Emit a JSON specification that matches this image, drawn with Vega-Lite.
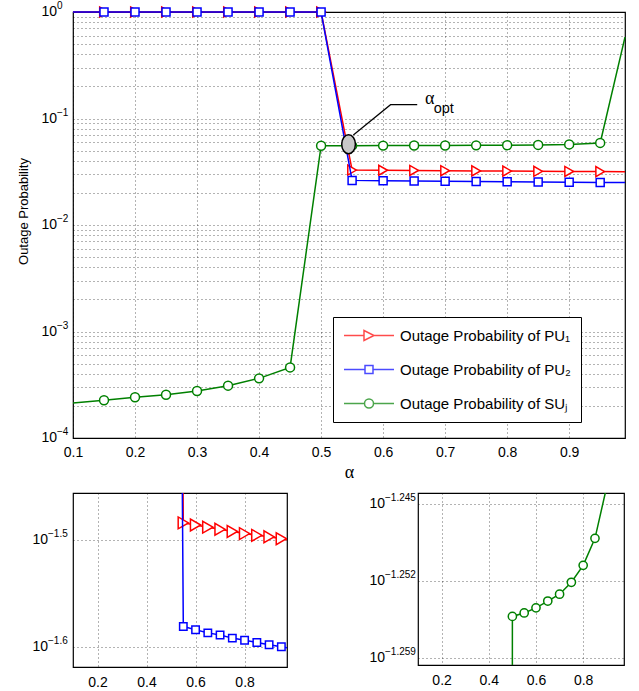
{
  "$schema": "https://vega.github.io/schema/vega-lite/v6.json",
  "padding": {"left": 16, "top": 0, "right": 0, "bottom": 0},
  "bounds": "flush",
  "spacing": 55,
  "datasets": {
    "series": [
      {"a": 0.1, "s": "PU1", "p": 1, "m": false},
      {"a": 0.15, "s": "PU1", "p": 1, "m": true},
      {"a": 0.2, "s": "PU1", "p": 1, "m": true},
      {"a": 0.25, "s": "PU1", "p": 1, "m": true},
      {"a": 0.3, "s": "PU1", "p": 1, "m": true},
      {"a": 0.35, "s": "PU1", "p": 1, "m": true},
      {"a": 0.4, "s": "PU1", "p": 1, "m": true},
      {"a": 0.45, "s": "PU1", "p": 1, "m": true},
      {"a": 0.5, "s": "PU1", "p": 1, "m": true},
      {"a": 0.55, "s": "PU1", "p": 0.03281, "m": true},
      {"a": 0.6, "s": "PU1", "p": 0.03266, "m": true},
      {"a": 0.65, "s": "PU1", "p": 0.03251, "m": true},
      {"a": 0.7, "s": "PU1", "p": 0.03236, "m": true},
      {"a": 0.75, "s": "PU1", "p": 0.03221, "m": true},
      {"a": 0.8, "s": "PU1", "p": 0.03206, "m": true},
      {"a": 0.85, "s": "PU1", "p": 0.03194, "m": true},
      {"a": 0.9, "s": "PU1", "p": 0.03184, "m": true},
      {"a": 0.95, "s": "PU1", "p": 0.03171, "m": true},
      {"a": 0.99, "s": "PU1", "p": 0.0316, "m": false},
      {"a": 0.1, "s": "PU2", "p": 1, "m": false},
      {"a": 0.15, "s": "PU2", "p": 1, "m": true},
      {"a": 0.2, "s": "PU2", "p": 1, "m": true},
      {"a": 0.25, "s": "PU2", "p": 1, "m": true},
      {"a": 0.3, "s": "PU2", "p": 1, "m": true},
      {"a": 0.35, "s": "PU2", "p": 1, "m": true},
      {"a": 0.4, "s": "PU2", "p": 1, "m": true},
      {"a": 0.45, "s": "PU2", "p": 1, "m": true},
      {"a": 0.5, "s": "PU2", "p": 1, "m": true},
      {"a": 0.55, "s": "PU2", "p": 0.02624, "m": true},
      {"a": 0.6, "s": "PU2", "p": 0.02606, "m": true},
      {"a": 0.65, "s": "PU2", "p": 0.02588, "m": true},
      {"a": 0.7, "s": "PU2", "p": 0.02576, "m": true},
      {"a": 0.75, "s": "PU2", "p": 0.02559, "m": true},
      {"a": 0.8, "s": "PU2", "p": 0.02547, "m": true},
      {"a": 0.85, "s": "PU2", "p": 0.02535, "m": true},
      {"a": 0.9, "s": "PU2", "p": 0.02523, "m": true},
      {"a": 0.95, "s": "PU2", "p": 0.02512, "m": true},
      {"a": 0.99, "s": "PU2", "p": 0.02503, "m": false},
      {"a": 0.1, "s": "SU", "p": 0.000213, "m": false},
      {"a": 0.15, "s": "SU", "p": 0.000226, "m": true},
      {"a": 0.2, "s": "SU", "p": 0.000241, "m": true},
      {"a": 0.25, "s": "SU", "p": 0.000255, "m": true},
      {"a": 0.3, "s": "SU", "p": 0.000276, "m": true},
      {"a": 0.35, "s": "SU", "p": 0.00031, "m": true},
      {"a": 0.4, "s": "SU", "p": 0.000363, "m": true},
      {"a": 0.45, "s": "SU", "p": 0.00046, "m": true},
      {"a": 0.5, "s": "SU", "p": 0.05556, "m": true},
      {"a": 0.55, "s": "SU", "p": 0.0556, "m": true},
      {"a": 0.6, "s": "SU", "p": 0.05566, "m": true},
      {"a": 0.65, "s": "SU", "p": 0.05574, "m": true},
      {"a": 0.7, "s": "SU", "p": 0.05582, "m": true},
      {"a": 0.75, "s": "SU", "p": 0.05596, "m": true},
      {"a": 0.8, "s": "SU", "p": 0.05616, "m": true},
      {"a": 0.85, "s": "SU", "p": 0.05648, "m": true},
      {"a": 0.9, "s": "SU", "p": 0.0571, "m": true},
      {"a": 0.95, "s": "SU", "p": 0.059, "m": true},
      {"a": 0.99, "s": "SU", "p": 0.58, "m": false}
    ],
    "mainLab": [
      {"a": 0.1, "p": 1, "e": "0"},
      {"a": 0.1, "p": 0.1, "e": "−1"},
      {"a": 0.1, "p": 0.01, "e": "−2"},
      {"a": 0.1, "p": 0.001, "e": "−3"},
      {"a": 0.1, "p": 0.0001, "e": "−4"}
    ],
    "in1Lab": [
      {"a": 0.1, "p": 0.0316228, "e": "−1.5"},
      {"a": 0.1, "p": 0.0251189, "e": "−1.6"}
    ],
    "in2Lab": [
      {"a": 0.1, "p": 0.056885, "e": "−1.245"},
      {"a": 0.1, "p": 0.055976, "e": "−1.252"},
      {"a": 0.1, "p": 0.055081, "e": "−1.259"}
    ],
    "annLine": [
      {"a": 0.552, "p": 0.07},
      {"a": 0.612, "p": 0.1348},
      {"a": 0.655, "p": 0.1348}
    ],
    "annPt": [{"a": 0.5443, "p": 0.0573}],
    "annA": [{"a": 0.675, "p": 0.152, "t": "α"}],
    "annOpt": [{"a": 0.6816, "p": 0.123, "t": "opt"}]
  },
  "vconcat": [
    {
      "width": 552,
      "height": 426,
      "encoding": {
        "x": {"field": "a", "type": "quantitative",
          "scale": {"domain": [0.1, 0.99], "nice": false, "zero": false},
          "axis": {"values": [0.1, 0.2, 0.3, 0.4, 0.5, 0.6, 0.7, 0.8, 0.9], "format": ".1f", "title": "α", "titleFont": "Liberation Serif", "titleFontSize": 18, "titlePadding": 4, "labelPadding": 7, "labelFlush": false, "grid": true}},
        "y": {"field": "p", "type": "quantitative",
          "scale": {"type": "log", "domain": [0.0001, 1], "nice": false},
          "axis": {"values": [0.0001, 0.0002, 0.0003, 0.0004, 0.0005, 0.0006, 0.0007, 0.0008, 0.0009, 0.001, 0.002, 0.003, 0.004, 0.005, 0.006, 0.007, 0.008, 0.009, 0.01, 0.02, 0.03, 0.04, 0.05, 0.06, 0.07, 0.08, 0.09, 0.1, 0.2, 0.3, 0.4, 0.5, 0.6, 0.7, 0.8, 0.9, 1], "labels": false, "grid": true, "title": "Outage Probability", "titleFontSize": 13, "titleX": -50, "titleY": 199, "titleAngle": -90, "titleBaseline": "middle", "titleAlign": "center"}}
      },
      "layer": [
        {"data": {"name": "series"}, "transform": [{"filter": "datum.s === 'PU1'"}],
          "mark": {"type": "line", "color": "#ff0000", "strokeWidth": 1.5}},
        {"data": {"name": "series"}, "transform": [{"filter": "datum.s === 'PU1' && datum.m"}],
          "mark": {"type": "point", "shape": "triangle-right", "size": 100, "filled": true, "fill": "white", "stroke": "#ff0000", "strokeWidth": 1.5, "opacity": 1}},
        {"data": {"name": "series"}, "transform": [{"filter": "datum.s === 'PU2'"}],
          "mark": {"type": "line", "color": "#0000ff", "strokeWidth": 1.5}},
        {"data": {"name": "series"}, "transform": [{"filter": "datum.s === 'PU2' && datum.m"}],
          "mark": {"type": "point", "shape": "square", "size": 64, "filled": true, "fill": "white", "stroke": "#0000ff", "strokeWidth": 1.5, "opacity": 1}},
        {"data": {"name": "series"}, "transform": [{"filter": "datum.s === 'SU'"}],
          "mark": {"type": "line", "color": "#008000", "strokeWidth": 1.5}},
        {"data": {"name": "series"}, "transform": [{"filter": "datum.s === 'SU' && datum.m"}],
          "mark": {"type": "point", "shape": "circle", "size": 80, "filled": true, "fill": "white", "stroke": "#008000", "strokeWidth": 1.5, "opacity": 1}},
        {"data": {"name": "annLine"},
          "mark": {"type": "line", "color": "black", "strokeWidth": 1.2}},
        {"data": {"name": "annPt"},
          "mark": {"type": "point", "shape": "M-0.72,0A0.72,1,0,1,1,0.72,0A0.72,1,0,1,1,-0.72,0Z", "size": 361, "filled": true, "fill": "#c8c8c8", "stroke": "black", "strokeWidth": 1.5, "opacity": 1}},
        {"data": {"name": "annA"},
          "mark": {"type": "text", "font": "Liberation Serif", "fontSize": 18, "color": "black", "align": "center", "baseline": "middle"},
          "encoding": {"text": {"field": "t"}}},
        {"data": {"name": "annOpt"},
          "mark": {"type": "text", "font": "Liberation Sans", "fontSize": 14.5, "color": "black", "align": "left", "baseline": "middle"},
          "encoding": {"text": {"field": "t"}}},
        {"data": {"name": "mainLab"},
          "mark": {"type": "text", "align": "right", "baseline": "middle", "dx": -16, "fontSize": 14, "font": "Liberation Sans", "color": "black"},
          "encoding": {"text": {"value": "10"}}},
        {"data": {"name": "mainLab"},
          "mark": {"type": "text", "align": "left", "baseline": "middle", "dx": -16, "dy": -6, "fontSize": 10, "font": "Liberation Sans", "color": "black"},
          "encoding": {"text": {"field": "e"}}},
        {"data": {"name": "series"}, "transform": [{"filter": "false"}],
          "mark": {"type": "point", "filled": false, "size": 225, "strokeWidth": 1.5},
          "encoding": {
            "color": {"field": "s", "type": "nominal",
              "scale": {"domain": ["PU1", "PU2", "SU"], "range": ["#ff0000", "#0000ff", "#008000"]},
              "legend": {"orient": "none", "legendX": 260, "legendY": 305, "title": null,
                "labelExpr": "datum.label === 'PU1' ? 'Outage Probability of PU₁' : datum.label === 'PU2' ? 'Outage Probability of PU₂' : 'Outage Probability of SUⱼ'"}},
            "shape": {"field": "s", "type": "nominal",
              "scale": {"domain": ["PU1", "PU2", "SU"], "range": [
                "M-3.333,0H-0.667M-0.667,-0.667L0.667,0L-0.667,0.667ZM0.667,0H3.333",
                "M-3.333,0H-0.533M-0.533,-0.533H0.533V0.533H-0.533ZM0.533,0H3.333",
                "M-3.333,0H-0.6A0.6,0.6,0,1,1,0.6,0A0.6,0.6,0,1,1,-0.6,0ZM0.6,0H3.333"]},
              "legend": {"orient": "none", "legendX": 260, "legendY": 305, "title": null,
                "labelExpr": "datum.label === 'PU1' ? 'Outage Probability of PU₁' : datum.label === 'PU2' ? 'Outage Probability of PU₂' : 'Outage Probability of SUⱼ'"}}
          }}
      ]
    },
    {
      "hconcat": [
        {
          "width": 214,
          "height": 174,
          "encoding": {
            "x": {"field": "a", "type": "quantitative",
              "scale": {"domain": [0.1, 0.973], "nice": false, "zero": false},
              "axis": {"values": [0.2, 0.4, 0.6, 0.8], "format": ".1f", "title": null, "grid": true, "labelPadding": 8, "labelFlush": false}},
            "y": {"field": "p", "type": "quantitative",
              "scale": {"type": "log", "domain": [0.024044, 0.034995], "nice": false},
              "axis": {"values": [0.0251189, 0.0316228], "labels": false, "grid": true, "title": null}}
          },
          "layer": [
            {"data": {"name": "series"}, "transform": [{"filter": "datum.s === 'PU1'"}],
              "mark": {"type": "line", "color": "#ff0000", "strokeWidth": 1.5, "clip": true}},
            {"data": {"name": "series"}, "transform": [{"filter": "datum.s === 'PU1' && datum.m"}],
              "mark": {"type": "point", "shape": "triangle-right", "size": 140, "filled": true, "fill": "white", "stroke": "#ff0000", "strokeWidth": 1.5, "opacity": 1, "clip": true}},
            {"data": {"name": "series"}, "transform": [{"filter": "datum.s === 'PU2'"}],
              "mark": {"type": "line", "color": "#0000ff", "strokeWidth": 1.5, "clip": true}},
            {"data": {"name": "series"}, "transform": [{"filter": "datum.s === 'PU2' && datum.m"}],
              "mark": {"type": "point", "shape": "square", "size": 55, "filled": true, "fill": "white", "stroke": "#0000ff", "strokeWidth": 1.5, "opacity": 1, "clip": true}},
            {"data": {"name": "in1Lab"},
              "mark": {"type": "text", "align": "right", "baseline": "middle", "dx": -25, "fontSize": 14, "font": "Liberation Sans", "color": "black"},
              "encoding": {"text": {"value": "10"}}},
            {"data": {"name": "in1Lab"},
              "mark": {"type": "text", "align": "left", "baseline": "middle", "dx": -25, "dy": -6, "fontSize": 10, "font": "Liberation Sans", "color": "black"},
              "encoding": {"text": {"field": "e"}}}
          ]
        },
        {
          "width": 206,
          "height": 172,
          "encoding": {
            "x": {"field": "a", "type": "quantitative",
              "scale": {"domain": [0.1, 0.973], "nice": false, "zero": false},
              "axis": {"values": [0.2, 0.4, 0.6, 0.8], "format": ".1f", "title": null, "grid": true, "labelPadding": 8, "labelFlush": false}},
            "y": {"field": "p", "type": "quantitative",
              "scale": {"type": "log", "domain": [0.054995, 0.057021], "nice": false},
              "axis": {"values": [0.055081, 0.055976, 0.056885], "labels": false, "grid": true, "title": null}}
          },
          "layer": [
            {"data": {"name": "series"}, "transform": [{"filter": "datum.s === 'SU'"}],
              "mark": {"type": "line", "color": "#008000", "strokeWidth": 1.5, "clip": true}},
            {"data": {"name": "series"}, "transform": [{"filter": "datum.s === 'SU' && datum.m"}],
              "mark": {"type": "point", "shape": "circle", "size": 68, "filled": true, "fill": "white", "stroke": "#008000", "strokeWidth": 1.5, "opacity": 1, "clip": true}},
            {"data": {"name": "in2Lab"},
              "mark": {"type": "text", "align": "right", "baseline": "middle", "dx": -33, "fontSize": 14, "font": "Liberation Sans", "color": "black"},
              "encoding": {"text": {"value": "10"}}},
            {"data": {"name": "in2Lab"},
              "mark": {"type": "text", "align": "left", "baseline": "middle", "dx": -33, "dy": -6, "fontSize": 10, "font": "Liberation Sans", "color": "black"},
              "encoding": {"text": {"field": "e"}}}
          ]
        }
      ],
      "spacing": 131,
      "bounds": "flush"
    }
  ],
  "config": {
    "font": "Liberation Sans",
    "view": {"stroke": "black", "strokeWidth": 1.2},
    "axis": {"labelFont": "Liberation Sans", "labelFontSize": 14, "labelColor": "black", "titleColor": "black", "titleFont": "Liberation Sans", "titleFontWeight": "normal", "gridColor": "#000000", "gridDash": [1, 3], "gridOpacity": 0.6, "gridWidth": 1, "domain": false, "ticks": false},
    "legend": {"labelFont": "Liberation Sans", "labelFontSize": 15, "labelColor": "black", "labelLimit": 400, "symbolSize": 225, "symbolStrokeWidth": 1.5, "symbolOffset": 17.5, "padding": 10, "rowPadding": 17, "labelOffset": 22.5, "strokeColor": "black", "fillColor": "white", "cornerRadius": 0}
  }
}
